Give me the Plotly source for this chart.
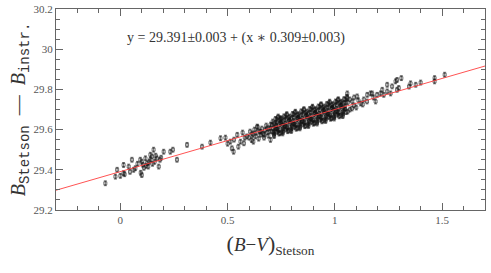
import plotly.graph_objects as go

# ---- data ----
bv_sparse = [-0.070, -0.023, -0.015, 0.000, 0.015, 0.015, 0.020, 0.039, 0.045, 0.054, 0.062, 0.070,
             0.080, 0.093, 0.095, 0.100, 0.100, 0.105, 0.110, 0.117, 0.120, 0.125, 0.130, 0.135,
             0.140, 0.140, 0.148, 0.150, 0.155, 0.160, 0.165, 0.170, 0.179, 0.185, 0.190, 0.202,
             0.233, 0.245, 0.264, 0.311, 0.381, 0.420,
             0.467, 0.490, 0.500, 0.513, 0.520, 0.528, 0.530, 0.545, 0.550, 0.560, 0.570, 0.576,
             0.580, 0.590, 0.600, 0.605, 0.612, 0.615, 0.618, 0.620, 0.625, 0.630, 0.636, 0.638,
             0.640, 0.645, 0.650, 0.654, 0.655, 0.660, 0.665, 0.670, 0.670, 0.675, 0.680, 0.685,
             0.685, 0.690, 0.695, 0.700, 0.700, 0.700, 0.710, 0.725, 0.747,
             1.058, 1.058, 1.060, 1.060, 1.070, 1.070, 1.081, 1.080, 1.090, 1.090, 1.100, 1.104,
             1.110, 1.120, 1.130, 1.135, 1.150, 1.151, 1.166, 1.174, 1.180, 1.190, 1.197, 1.213,
             1.221, 1.228, 1.244, 1.244, 1.260, 1.267, 1.283, 1.290, 1.290, 1.298, 1.310, 1.346,
             1.353, 1.377, 1.400, 1.465, 1.465, 1.512]
b_sparse = [29.333, 29.366, 29.400, 29.370, 29.424, 29.383, 29.378, 29.416, 29.390, 29.450, 29.400, 29.408,
            29.430, 29.450, 29.385, 29.374, 29.440, 29.425, 29.410, 29.457, 29.420, 29.433, 29.416, 29.440,
            29.450, 29.475, 29.466, 29.430, 29.500, 29.440, 29.470, 29.457, 29.416, 29.450, 29.460, 29.490,
            29.490, 29.500, 29.450, 29.524, 29.515, 29.535,
            29.557, 29.560, 29.530, 29.540, 29.507, 29.490, 29.550, 29.574, 29.515, 29.540, 29.585, 29.532,
            29.560, 29.566, 29.560, 29.590, 29.548, 29.580, 29.575, 29.540, 29.600, 29.566, 29.585, 29.615,
            29.612, 29.555, 29.590, 29.590, 29.575, 29.605, 29.580, 29.560, 29.574, 29.598, 29.620, 29.585,
            29.607, 29.570, 29.605, 29.592, 29.625, 29.549, 29.590, 29.623, 29.657,
            29.780, 29.756, 29.735, 29.690, 29.700, 29.750, 29.740, 29.705, 29.720, 29.760, 29.710, 29.765,
            29.745, 29.730, 29.725, 29.750, 29.740, 29.773, 29.780, 29.780, 29.760, 29.740, 29.773, 29.780,
            29.798, 29.773, 29.823, 29.790, 29.780, 29.815, 29.840, 29.798, 29.847, 29.807, 29.856, 29.814,
            29.830, 29.823, 29.834, 29.856, 29.840, 29.873]

bv_dense = [0.710, 0.713, 0.716, 0.707, 0.720, 0.723, 0.726, 0.717, 0.730, 0.733, 0.736, 0.727,
            0.740, 0.743, 0.746, 0.737, 0.750, 0.753, 0.756, 0.747, 0.760, 0.763, 0.766, 0.757,
            0.770, 0.773, 0.776, 0.767, 0.780, 0.783, 0.786, 0.777, 0.790, 0.793, 0.796, 0.787,
            0.800, 0.803, 0.806, 0.797, 0.810, 0.813, 0.816, 0.807, 0.820, 0.823, 0.826, 0.817,
            0.830, 0.833, 0.836, 0.827, 0.840, 0.843, 0.846, 0.837, 0.850, 0.853, 0.856, 0.847,
            0.860, 0.863, 0.866, 0.857, 0.870, 0.873, 0.876, 0.867, 0.880, 0.883, 0.886, 0.877,
            0.890, 0.893, 0.896, 0.887, 0.900, 0.903, 0.906, 0.897, 0.910, 0.913, 0.916, 0.907,
            0.920, 0.923, 0.926, 0.917, 0.930, 0.933, 0.936, 0.927, 0.940, 0.943, 0.946, 0.937,
            0.950, 0.953, 0.956, 0.947, 0.960, 0.963, 0.966, 0.957, 0.970, 0.973, 0.976, 0.967,
            0.980, 0.983, 0.986, 0.977, 0.990, 0.993, 0.996, 0.987, 1.000, 1.003, 1.006, 0.997,
            1.010, 1.013, 1.016, 1.007, 1.020, 1.023, 1.026, 1.017, 1.030, 1.033, 1.036, 1.027,
            1.040, 1.043, 1.046, 1.037, 1.050, 1.053, 1.056, 1.047]
b_dense = [29.640, 29.605, 29.575, 29.622, 29.593, 29.653, 29.618, 29.568, 29.637, 29.589, 29.665, 29.605,
           29.580, 29.628, 29.648, 29.602, 29.653, 29.618, 29.588, 29.635, 29.606, 29.666, 29.631, 29.581,
           29.649, 29.601, 29.677, 29.617, 29.592, 29.640, 29.660, 29.614, 29.665, 29.630, 29.600, 29.647,
           29.618, 29.678, 29.643, 29.593, 29.661, 29.613, 29.689, 29.629, 29.604, 29.652, 29.672, 29.626,
           29.677, 29.642, 29.612, 29.659, 29.631, 29.691, 29.656, 29.606, 29.674, 29.626, 29.702, 29.642,
           29.617, 29.665, 29.685, 29.639, 29.690, 29.655, 29.625, 29.672, 29.643, 29.703, 29.668, 29.618,
           29.686, 29.638, 29.714, 29.654, 29.629, 29.677, 29.697, 29.651, 29.702, 29.667, 29.637, 29.684,
           29.655, 29.715, 29.680, 29.630, 29.698, 29.650, 29.726, 29.666, 29.641, 29.689, 29.709, 29.663,
           29.715, 29.680, 29.650, 29.697, 29.668, 29.728, 29.693, 29.643, 29.711, 29.663, 29.739, 29.679,
           29.654, 29.702, 29.722, 29.676, 29.727, 29.692, 29.662, 29.709, 29.680, 29.740, 29.705, 29.655,
           29.723, 29.675, 29.751, 29.691, 29.666, 29.714, 29.734, 29.688, 29.739, 29.704, 29.674, 29.721,
           29.692, 29.752, 29.717, 29.667, 29.735, 29.687, 29.763, 29.703]

bv_dense2 = [0.715, 0.718, 0.725, 0.728, 0.735, 0.738, 0.745, 0.748, 0.755, 0.758, 0.765, 0.768,
             0.775, 0.778, 0.785, 0.788, 0.795, 0.798, 0.805, 0.808, 0.815, 0.818, 0.825, 0.828,
             0.835, 0.838, 0.845, 0.848, 0.855, 0.858, 0.865, 0.868, 0.875, 0.878, 0.885, 0.888,
             0.895, 0.898, 0.905, 0.908, 0.915, 0.918, 0.925, 0.928, 0.935, 0.938, 0.945, 0.948,
             0.955, 0.958, 0.965, 0.968, 0.975, 0.978, 0.985, 0.988, 0.995, 0.998, 1.005, 1.008,
             1.015, 1.018, 1.025, 1.028, 1.035, 1.038, 1.045, 1.048]
b_dense2 = [29.630, 29.582, 29.607, 29.649, 29.660, 29.596, 29.583, 29.631, 29.642, 29.594, 29.619, 29.661,
            29.672, 29.608, 29.596, 29.644, 29.655, 29.607, 29.632, 29.674, 29.685, 29.621, 29.608, 29.656,
            29.667, 29.619, 29.644, 29.686, 29.697, 29.633, 29.620, 29.668, 29.679, 29.631, 29.656, 29.698,
            29.710, 29.646, 29.633, 29.681, 29.692, 29.644, 29.669, 29.711, 29.722, 29.658, 29.645, 29.693,
            29.704, 29.656, 29.681, 29.723, 29.734, 29.670, 29.657, 29.705, 29.716, 29.668, 29.694, 29.736,
            29.747, 29.683, 29.670, 29.718, 29.729, 29.681, 29.706, 29.748]

bv = bv_sparse + bv_dense + bv_dense2
b_diff = b_sparse + b_dense + b_dense2
b_err = 0.012

fit_intercept = 29.391
fit_slope = 0.309
fit_x = [-0.3, 1.7]
x_range = [-0.3, 1.7]
y_range = [29.2, 30.2]
fit_label = "y = 29.391±0.003 + (x ∗ 0.309±0.003)"

SERIF = "Liberation Serif, DejaVu Serif, serif"
MONO = "Liberation Mono, DejaVu Sans Mono, monospace"
MARK = "rgba(20,20,20,0.6)"

fig = go.Figure()
fig.add_trace(go.Scatter(
    x=bv, y=b_diff, mode="markers",
    marker=dict(symbol="square-open", size=3, color=MARK, line=dict(width=1, color=MARK)),
    error_y=dict(type="constant", value=b_err, color=MARK, thickness=1, width=1.5),
    showlegend=False, hoverinfo="skip"))
fig.add_trace(go.Scatter(
    x=fit_x, y=[fit_intercept + fit_slope * v for v in fit_x], mode="lines",
    line=dict(color="#ff4040", width=0.9), showlegend=False, hoverinfo="skip"))

axis_common = dict(showline=True, linecolor="#666", linewidth=1, mirror="ticks",
                   ticks="inside", ticklen=7, tickcolor="#666", showgrid=False,
                   zeroline=False, automargin=False,
                   tickfont=dict(family=SERIF, size=11, color="#555"))

fig.update_xaxes(range=x_range, dtick=0.5, tick0=0,
                 minor=dict(ticks="inside", dtick=0.1, ticklen=4, tickcolor="#666"),
                 title=dict(text="<span style='font-size:22px'>(</span><i>B</i>−<i>V</i><span style='font-size:22px'>)</span><sub>Stetson</sub>",
                            font=dict(family=SERIF, size=19, color="#333"), standoff=12),
                 **axis_common)
fig.update_yaxes(range=y_range, dtick=0.2, tick0=29.2,
                 minor=dict(ticks="inside", dtick=0.05, ticklen=4, tickcolor="#666"),
                 title=dict(text="<i>B</i><sub><span style='font-family:" + MONO + "'>Stetson</span></sub>  —  <i>B</i><sub><span style='font-family:" + MONO + "'>instr.</span></sub>",
                            font=dict(family=SERIF, size=20, color="#333"), standoff=2),
                 **axis_common)

fig.add_annotation(x=0.42, y=0.905, xref="paper", yref="paper", showarrow=False,
                   text=fit_label, font=dict(family=SERIF, size=14, color="#333"))

fig.update_layout(width=491, height=273, margin=dict(l=56, r=6, t=9, b=63),
                  plot_bgcolor="white", paper_bgcolor="white")

fig.write_html("out.html", config={"displayModeBar": False},
               post_script="document.body.style.margin='0';")
